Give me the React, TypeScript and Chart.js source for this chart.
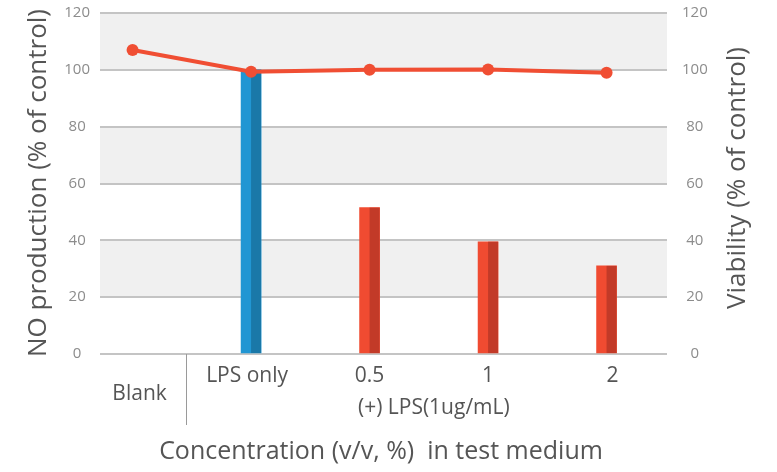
import { useEffect, useRef } from 'react';
import { Chart, registerables } from 'chart.js';

Chart.register(...registerables);

const categories = ['Blank', 'LPS only', '0.5', '1', '2'];
const noProduction: (number | null)[] = [null, 100, 51.5, 39.5, 31];
const viability = [107, 99.3, 100, 100.1, 99];
const groupLabel = '(+) LPS(1ug/mL)';
const xTitle = 'Concentration (v/v, %)  in test medium';
const yLeftTitle = 'NO production (% of control)';
const yRightTitle = 'Viability (% of control)';

const barLight = ['#f04b31', '#2196d3', '#f04b31', '#f04b31', '#f04b31'];
const barDark = ['#c23a28', '#1a78a8', '#c23a28', '#c23a28', '#c23a28'];
const lineColor = '#f04e33';
const FONT = '"Open Sans", sans-serif';
const TEXT = '#555555';

export default function App() {
  const ref = useRef<HTMLCanvasElement | null>(null);

  useEffect(() => {
    if (!ref.current) return;

    const bandsPlugin = {
      id: 'bands',
      beforeDraw(chart: any) {
        const { ctx, chartArea } = chart;
        const y = chart.scales.y;
        const ticks = y.ticks;
        ctx.save();
        ctx.fillStyle = '#f0f0f0';
        for (let k = 1; k < ticks.length - 1; k += 2) {
          const y0 = y.getPixelForValue(ticks[k].value);
          const y1 = y.getPixelForValue(ticks[k + 1].value);
          ctx.fillRect(chartArea.left, y1, chartArea.right - chartArea.left, y0 - y1);
        }
        ctx.restore();
      },
    };

    const halfPlugin = {
      id: 'halfShade',
      afterDatasetDraw(chart: any, args: any) {
        if (args.index !== 0) return;
        const { ctx } = chart;
        const meta = chart.getDatasetMeta(0);
        ctx.save();
        meta.data.forEach((el: any, i: number) => {
          if (noProduction[i] == null) return;
          const p = el.getProps(['x', 'y', 'base', 'width'], true);
          ctx.fillStyle = barDark[i];
          ctx.fillRect(p.x, p.y, p.width / 2, p.base - p.y);
        });
        ctx.restore();
      },
    };

    const textPlugin = {
      id: 'texts',
      afterDraw(chart: any) {
        const { ctx, chartArea } = chart;
        const x = chart.scales.x;
        ctx.save();
        ctx.fillStyle = TEXT;
        ctx.textAlign = 'center';
        ctx.textBaseline = 'middle';
        ctx.font = `21px ${FONT}`;
        categories.forEach((c, i) => {
          const px = x.getPixelForValue(i) + (i === 0 ? 7 : i === 1 ? -4 : i === 4 ? 6 : 0);
          ctx.fillText(c, px, i === 0 ? 394 : 376);
        });
        ctx.fillText(groupLabel, (x.getPixelForValue(2) + x.getPixelForValue(3)) / 2 + 5, 408);

        // separator between Blank and the rest
        ctx.strokeStyle = '#9a9a9a';
        ctx.lineWidth = 1;
        const sx = Math.round(x.getPixelForValue(0.45)) + 0.5;
        ctx.beginPath();
        ctx.moveTo(sx, chartArea.bottom);
        ctx.lineTo(sx, chartArea.bottom + 71);
        ctx.stroke();

        ctx.font = `25px ${FONT}`;
        ctx.fillText(xTitle, 381, 452);

        ctx.font = `26px ${FONT}`;
        ctx.save();
        ctx.translate(39, 183);
        ctx.rotate(-Math.PI / 2);
        ctx.fillText(yLeftTitle, 0, 0);
        ctx.restore();

        ctx.save();
        ctx.translate(738, 178);
        ctx.rotate(-Math.PI / 2);
        ctx.fillText(yRightTitle, 0, 0);
        ctx.restore();
        ctx.restore();
      },
    };

    const chart = new Chart(ref.current, {
      type: 'bar',
      data: {
        datasets: [
          {
            type: 'bar',
            data: categories.map((_, i) => ({ x: i, y: noProduction[i] })) as any,
            backgroundColor: barLight,
            barThickness: 20,
            yAxisID: 'y',
            order: 1,
          },
          {
            type: 'line',
            data: categories.map((_, i) => ({ x: i, y: viability[i] })) as any,
            borderColor: lineColor,
            backgroundColor: lineColor,
            borderWidth: 4,
            pointRadius: 6,
            pointBackgroundColor: lineColor,
            pointBorderWidth: 0,
            yAxisID: 'y2',
            order: 0,
          },
        ],
      },
      options: {
        responsive: false,
        animation: false,
        layout: { padding: { top: 13, bottom: 118, left: 0, right: 0 } },
        plugins: { legend: { display: false }, tooltip: { enabled: false } },
        scales: {
          x: {
            type: 'linear',
            min: -0.275,
            max: 4.51,
            offset: false,
            display: false,
          },
          y: {
            position: 'left',
            min: 0,
            max: 120,
            ticks: {
              stepSize: 20,
              color: '#8c8c8c',
              font: { family: FONT, size: 15 },
              padding: 10,
              crossAlign: 'center',
            },
            grid: { color: '#c4c4c4', lineWidth: 2, drawTicks: false },
            border: { display: false },
            afterFit: (s: any) => {
              s.width = 100;
              s.paddingTop = 0;
              s.paddingBottom = 0;
            },
          },
          y2: {
            position: 'right',
            min: 0,
            max: 120,
            ticks: {
              stepSize: 20,
              color: '#8c8c8c',
              font: { family: FONT, size: 15 },
              padding: 15,
              crossAlign: 'center',
            },
            grid: { drawOnChartArea: false, drawTicks: false },
            border: { display: false },
            afterFit: (s: any) => {
              s.width = 110;
              s.paddingTop = 0;
              s.paddingBottom = 0;
            },
          },
        },
      },
      plugins: [bandsPlugin, halfPlugin, textPlugin],
    });

    return () => chart.destroy();
  }, []);

  return (
    <div style={{ position: 'fixed', left: 0, top: 0, width: 777, height: 472, background: '#fff' }}>
      <canvas ref={ref} width={777} height={472} style={{ width: 777, height: 472 }} />
    </div>
  );
}
